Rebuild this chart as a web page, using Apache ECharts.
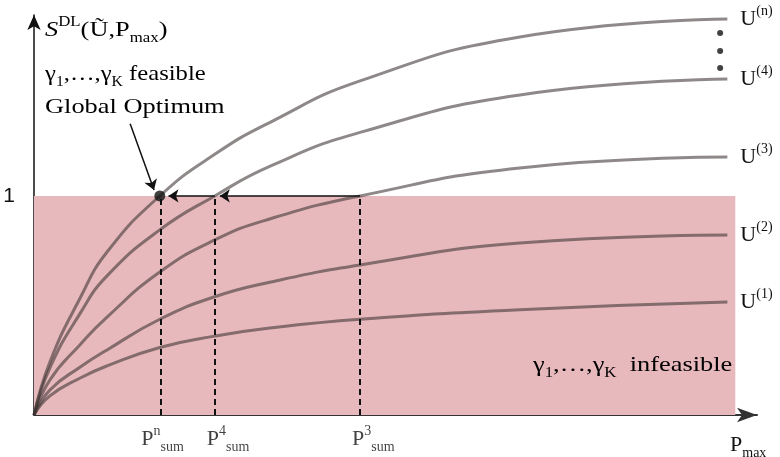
<!DOCTYPE html>
<html>
<head>
<meta charset="utf-8">
<script src="https://cdn.jsdelivr.net/npm/echarts@6/dist/echarts.min.js"></script>
<style>
html, body { margin: 0; padding: 0; background: #fff; }
#chart { width: 780px; height: 457px; }
</style>
</head>
<body>
<div id="chart"></div>
<script>
// P_max positions (axis runs 0..100, arbitrary units)
var xs = [0, 2.2, 6.4, 10.1, 17.4, 25.0, 32.6, 45.1, 67.2, 95.9];
// S^DL for each U^(i) (1 = feasibility level)
var uN = [0, 0.242, 0.535, 0.744, 1.0, 1.19, 1.335, 1.525, 1.726, 1.808];
var u4 = [0, 0.215, 0.465, 0.635, 0.845, 1.0, 1.135, 1.29, 1.461, 1.534];
var u3 = [0, 0.160, 0.322, 0.447, 0.653, 0.799, 0.895, 1.0, 1.128, 1.178];
var u2 = [0, 0.114, 0.219, 0.297, 0.437, 0.540, 0.606, 0.685, 0.785, 0.822];
var u1 = [0, 0.087, 0.169, 0.224, 0.308, 0.360, 0.397, 0.437, 0.481, 0.516];
var curveTags = ['(n)', '(4)', '(3)', '(2)', '(1)'];

// P_sum points where the curves cross 1
var pSumX = [17.6, 25.0, 45.1];
var pSumSup = ['n', '4', '3'];
var feasLevel = 1;
var feasRight = 97;
var dotsX = 94.9;
var dotsY = [1.744, 1.662, 1.584];
var optFrom = [13.3, 1.33];
var optTo = [16.6, 1.027];

var serif = 'Liberation Serif';
var ink = '#111';
var rich = {
    n: { fontFamily: serif, fontSize: 22, lineHeight: 30, color: ink },
    i: { fontFamily: serif, fontSize: 22, lineHeight: 30, color: ink, fontStyle: 'italic' },
    sup: { fontFamily: serif, fontSize: 14, lineHeight: 14, color: ink, verticalAlign: 'top' },
    sub: { fontFamily: serif, fontSize: 14, lineHeight: 14, color: ink, verticalAlign: 'bottom' }
};

var chart = echarts.init(document.getElementById('chart'));

function zip(ys) {
    return xs.map(function (x, k) { return [x, ys[k]]; });
}

var curveSeries = [uN, u4, u3, u2, u1].map(function (ys, k) {
    return {
        type: 'line',
        data: zip(ys),
        smooth: 0.5,
        symbol: 'none',
        silent: true,
        z: 3,
        lineStyle: { color: 'rgba(60,50,50,0.58)', width: 3 },
        endLabel: {
            show: true,
            distance: 13,
            formatter: '{n|U}{sup|' + curveTags[k] + '}',
            rich: rich
        }
    };
});

function textItem(x, y, sx, txt) {
    return {
        type: 'text', x: x, y: y, scaleX: sx, z: 100, silent: true,
        style: { text: txt, rich: rich, align: 'left', verticalAlign: 'middle' }
    };
}

var option = {
    animation: false,
    grid: { left: 34, right: 23, top: 15, bottom: 42, outerBoundsMode: 'none' },
    xAxis: {
        type: 'value', min: 0, max: 100,
        axisLine: { lineStyle: { color: '#333', width: 2 }, symbol: ['none', 'arrow'], symbolSize: [11, 20] },
        axisTick: { show: false },
        axisLabel: { show: false },
        splitLine: { show: false },
        name: '{n|P}{sub|max}',
        nameLocation: 'end',
        nameGap: -27,
        nameTextStyle: { align: 'left', verticalAlign: 'top', padding: [15, 0, 0, 0], rich: rich }
    },
    yAxis: {
        type: 'value', min: 0, max: 1.826, interval: 1,
        axisLine: { show: true, lineStyle: { color: ink, width: 1.5 }, symbol: ['none', 'arrow'], symbolSize: [10, 15] },
        axisTick: { show: false },
        splitLine: { show: false },
        axisLabel: {
            margin: 19, fontFamily: 'Liberation Sans', fontSize: 21, color: ink,
            formatter: function (v) { return v === 1 ? '1' : ''; }
        }
    },
    graphic: [
        textItem(45, 30, 1.2, '{i|S}{sup|DL}{n|(Ũ,P}{sub|max}{n|)}'),
        textItem(45, 74, 1.12, '{n|γ}{sub|1}{n|,…,γ}{sub|K}{n| feasible}'),
        textItem(45, 107, 1.2, '{n|Global Optimum}'),
        textItem(533, 365, 1.2, '{n|γ}{sub|1}{n|,…,γ}{sub|K}{n|  infeasible}')
    ],
    series: [
        {
            type: 'line', data: [], z: 1,
            markArea: {
                silent: true,
                itemStyle: { color: '#e7b9bd' },
                data: [[{ coord: [0, 0] }, { coord: [feasRight, feasLevel] }]]
            }
        }
    ].concat(curveSeries).concat([
        {
            type: 'line', data: [], z: 5,
            markLine: {
                silent: true, symbol: 'none',
                label: { show: false },
                lineStyle: { color: ink, width: 2, type: [6, 4] },
                data: pSumX.map(function (x) { return [{ coord: [x, 0] }, { coord: [x, feasLevel] }]; })
            }
        },
        {
            type: 'line', data: [], z: 6,
            markLine: {
                silent: true, symbol: ['none', 'arrow'], symbolSize: 10,
                label: { show: false },
                lineStyle: { color: ink, width: 1.5, type: 'solid' },
                data: [
                    [{ coord: [pSumX[2], feasLevel] }, { coord: [pSumX[1] + 0.7, feasLevel] }],
                    [{ coord: [pSumX[1], feasLevel] }, { coord: [pSumX[0] + 1.0, feasLevel] }],
                    [{ coord: optFrom }, { coord: optTo }]
                ]
            }
        },
        {
            type: 'scatter', silent: true, z: 7,
            data: [[pSumX[0] - 0.2, feasLevel]],
            symbolSize: 11, itemStyle: { color: ink }
        },
        {
            type: 'scatter', silent: true, z: 7,
            data: dotsY.map(function (y) { return [dotsX, y]; }),
            symbolSize: 6, itemStyle: { color: ink }
        },
        {
            type: 'scatter', silent: true, z: 7,
            symbolSize: 0,
            data: pSumX.map(function (x, k) {
                return { value: [x, 0], label: { offset: [k === 0 ? -20 : -8, 0] } };
            }),
            label: {
                show: true, position: 'bottom', distance: 9, align: 'left',
                formatter: function (p) { return '{n|P}{sup|' + pSumSup[p.dataIndex] + '}{sub|sum}'; },
                rich: rich
            }
        }
    ])
};

chart.setOption(option);
</script>
</body>
</html>
